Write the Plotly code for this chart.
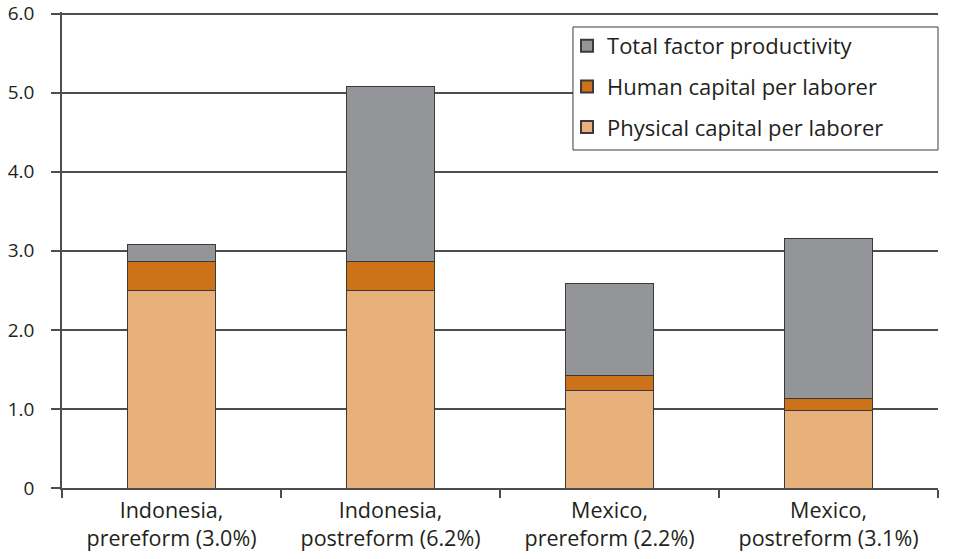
import plotly.graph_objects as go

categories = ["Indonesia,<br>prereform (3.0%)", "Indonesia,<br>postreform (6.2%)",
              "Mexico,<br>prereform (2.2%)", "Mexico,<br>postreform (3.1%)"]
physical_capital = [2.50, 2.50, 1.23, 0.98]
human_capital = [0.37, 0.37, 0.19, 0.15]
tfp = [0.21, 2.21, 1.17, 2.02]
ytick_vals = [0, 1, 2, 3, 4, 5, 6]
ytick_text = ["0", "1.0", "2.0", "3.0", "4.0", "5.0", "6.0"]

FONT = "Open Sans"
TXT = "#231f20"
GRID = "#4d4d4d"
line = dict(color="#3a3a3a", width=1)

fig = go.Figure()
fig.add_bar(x=categories, y=physical_capital, name="Physical capital per laborer",
            legendgroup="c", legendrank=3, marker=dict(color="#E8B07B", line=line))
fig.add_bar(x=categories, y=human_capital, name="Human capital per laborer",
            legendgroup="b", legendrank=2, marker=dict(color="#CC7219", line=line))
fig.add_bar(x=categories, y=tfp, name="Total factor productivity",
            legendgroup="a", legendrank=1, marker=dict(color="#939598", line=line))

fig.update_layout(
    width=953, height=559,
    barmode="stack", bargap=0.6,
    paper_bgcolor="white", plot_bgcolor="white",
    margin=dict(l=62, r=15, t=12, b=71),
    font=dict(family=FONT, size=21, color=TXT),
    showlegend=True,
    legend=dict(
        traceorder="grouped",
        x=0.5765, xanchor="left", y=0.9727, yanchor="top",
        borderwidth=0, bgcolor="rgba(0,0,0,0)",
        font=dict(family=FONT, size=22, color=TXT),
        itemsizing="constant", tracegroupgap=9,
    ),
    shapes=[dict(type="rect", xref="paper", yref="paper",
                 x0=0.5833, x1=1.0, y0=0.7101, y1=0.9685,
                 line=dict(color="#3a3a3a", width=1), fillcolor="white",
                 layer="above")],
    xaxis=dict(
        tickson="boundaries", ticks="outside", ticklen=8, tickcolor=GRID,
        tickwidth=1.5,
        showgrid=False, showline=True, linecolor=GRID, linewidth=1.5,
        tickfont=dict(family=FONT, size=21.5, color=TXT), automargin=False,
        ticklabelstandoff=2,
    ),
    yaxis=dict(
        range=[0, 6.02], tickvals=ytick_vals, ticktext=ytick_text,
        ticks="outside", ticklen=9, tickcolor=GRID, tickwidth=1.5,
        showgrid=True, gridcolor=GRID, gridwidth=1.5,
        showline=True, linecolor=GRID, linewidth=1.5,
        zeroline=False, tickfont=dict(family=FONT, size=19, color=TXT),
        automargin=False, ticklabeloverflow="allow", ticklabelstandoff=13,
    ),
)

fig.write_html("out.html",
               config={"displayModeBar": False},
               post_script="document.body.style.margin='0';document.body.style.overflow='hidden';")
